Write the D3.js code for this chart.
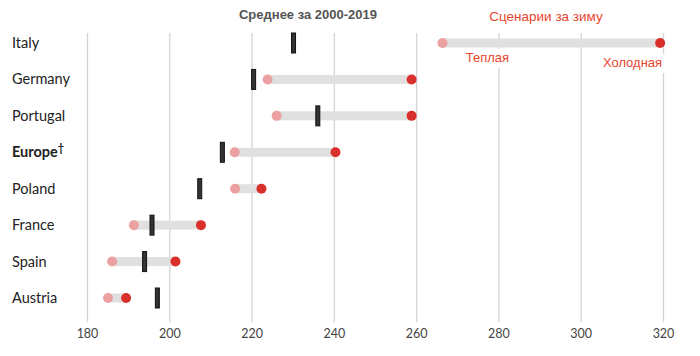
<!DOCTYPE html>
<html><head><meta charset="utf-8">
<script src="https://cdn.jsdelivr.net/npm/d3@7"></script>
<style>
body{margin:0;background:#fff;}
svg{display:block;}
</style></head>
<body><svg id="chart" width="700" height="356"></svg>
<script>
const countries = ["Italy","Germany","Portugal","Europe","Poland","France","Spain","Austria"];
const meanValues = [230.2, 220.5, 236.1, 212.9, 207.4, 195.8, 194.0, 197.1];
const warmValues = [266.4, 223.9, 226.1, 215.9, 216.0, 191.4, 186.1, 185.1];
const coldValues = [319.3, 258.9, 258.9, 240.4, 222.4, 207.7, 201.5, 189.5];
const xTicks = [180, 200, 220, 240, 260, 280, 300, 320];
const titleMean = "Среднее за 2000-2019";
const titleScen = "Сценарии за зиму";
const warmLabel = "Теплая";
const coldLabel = "Холодная";

const svg = d3.select("#chart");
const x = d3.scaleLinear().domain([180, 320]).range([87, 663]);
const y = d3.scalePoint().domain(countries).range([43, 298]);

const data = countries.map((c, i) => ({c, mean: meanValues[i], warm: warmValues[i], cold: coldValues[i]}));

// grid
const axis = d3.axisBottom(x).tickValues(xTicks).tickSize(-289).tickFormat(d3.format("d"));
const g = svg.append("g").attr("transform", "translate(0,322)").call(axis);
g.select(".domain").remove();
g.selectAll(".tick line").attr("stroke", "#d4d4d4").attr("stroke-width", 1.3);
g.selectAll(".tick text").attr("font-family", "Lato, 'Open Sans', sans-serif").attr("font-size", 12.5).attr("fill", "#444").attr("dy", "1.05em");

// bars
svg.append("g").selectAll("rect").data(data).join("rect")
  .attr("x", d => x(d.warm)).attr("width", d => x(d.cold) - x(d.warm))
  .attr("y", d => y(d.c) - 4.5).attr("height", 9).attr("fill", "#e0e0e0");

// label backgrounds and labels for Italy
const it = data[0];
const lblG = svg.append("g").attr("font-family", "'Liberation Sans', Arial, sans-serif").attr("font-size", 13).attr("fill", "#e8472f");
const wl = lblG.append("text").attr("x", x(it.warm) + 45).attr("y", y(it.c) + 19).attr("text-anchor", "middle").text(warmLabel);
const cl = lblG.append("text").attr("x", x(it.cold) + 2).attr("y", y(it.c) + 24).attr("text-anchor", "end").text(coldLabel);
[wl, cl].forEach(t => {
  const b = t.node().getBBox();
  lblG.insert("rect", "text").attr("x", b.x - 3).attr("y", b.y - 1).attr("width", b.width + 6).attr("height", b.height + 4).attr("fill", "#fff");
});

// dots
svg.append("g").selectAll("circle").data(data).join("circle")
  .attr("cx", d => x(d.warm)).attr("cy", d => y(d.c)).attr("r", 5).attr("fill", "#eba1a1");
svg.append("g").selectAll("circle").data(data).join("circle")
  .attr("cx", d => x(d.cold)).attr("cy", d => y(d.c)).attr("r", 5).attr("fill", "#d9302b");

// mean marks
svg.append("g").selectAll("rect").data(data).join("rect")
  .attr("x", d => x(d.mean) - 2).attr("width", 4)
  .attr("y", d => y(d.c) - 10).attr("height", 20)
  .attr("fill", "#333").attr("stroke", "#111").attr("stroke-width", 1);

// country labels
const lab = svg.append("g").selectAll("text").data(data).join("text")
  .attr("x", 12).attr("y", d => y(d.c) + 5)
  .attr("font-family", "Lato, 'Open Sans', sans-serif").attr("font-size", 14.5)
  .attr("fill", "#222")
  .attr("font-weight", d => d.c === "Europe" ? "bold" : "normal");
lab.each(function(d) {
  const t = d3.select(this);
  t.append("tspan").text(d.c);
  if (d.c === "Europe") t.append("tspan").attr("dy", -5).attr("font-size", 11).text("†");
});

// titles
svg.append("text").attr("x", 308).attr("y", 19).attr("text-anchor", "middle")
  .attr("font-family", "'Liberation Sans', Arial, sans-serif").attr("font-size", 13).attr("font-weight", "bold")
  .attr("fill", "#555").text(titleMean);
svg.append("text").attr("x", 546).attr("y", 21).attr("text-anchor", "middle")
  .attr("font-family", "'Liberation Sans', Arial, sans-serif").attr("font-size", 13.5)
  .attr("fill", "#e8472f").text(titleScen);
</script></body></html>
